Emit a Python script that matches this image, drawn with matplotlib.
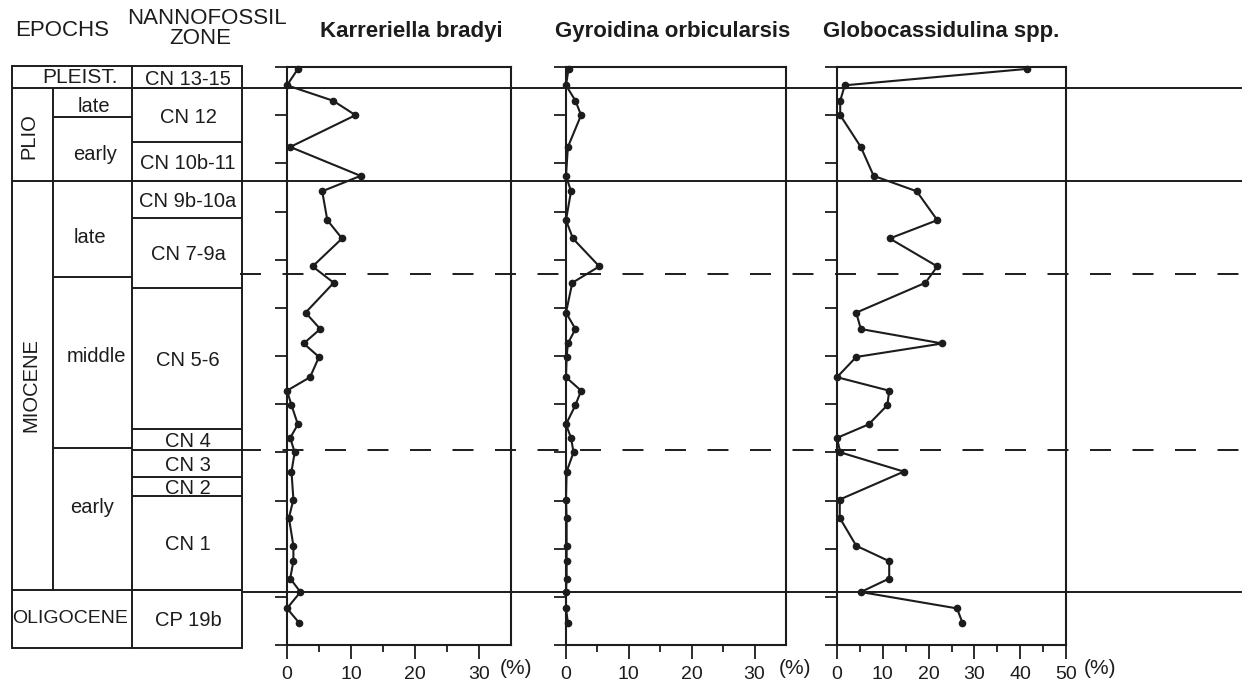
import matplotlib
matplotlib.use("Agg")
import matplotlib.pyplot as plt
from matplotlib.ticker import MultipleLocator, FixedLocator

plt.rcParams['font.family'] = ['Liberation Sans', 'DejaVu Sans']
plt.rcParams['lines.scale_dashes'] = False

# ---------------- data ----------------
depth = [2, 19, 35, 50, 83, 113, 129, 159, 178, 207, 224, 255, 272, 287, 301,
         322, 336, 351, 371, 385, 400, 420, 449, 468, 497, 513, 531, 545, 562, 577]
karreriella = [1.7, 0.0, 7.2, 10.7, 0.5, 11.5, 5.5, 6.3, 8.6, 4.0, 7.3, 2.9, 5.2, 2.6, 5.0,
               3.6, 0.0, 0.7, 1.7, 0.5, 1.2, 0.7, 1.0, 0.3, 1.0, 1.0, 0.5, 2.1, 0.0, 1.9]
gyroidina = [0.4, 0.0, 1.5, 2.4, 0.3, 0.0, 0.8, 0.0, 1.1, 5.3, 1.0, 0.0, 1.5, 0.3, 0.1,
             0.0, 2.4, 1.5, 0.0, 0.8, 1.2, 0.1, 0.0, 0.1, 0.1, 0.1, 0.1, 0.0, 0.0, 0.3]
globocassidulina = [41.4, 1.7, 0.7, 0.7, 5.2, 8.0, 17.4, 21.9, 11.5, 21.9, 19.3, 4.2, 5.2, 23.0, 4.2,
                    0.0, 11.4, 11.0, 6.9, 0.0, 0.7, 14.6, 0.6, 0.6, 4.2, 11.4, 11.4, 5.2, 26.2, 27.4]

series_names = ["Karreriella bradyi", "Gyroidina orbicularsis", "Globocassidulina spp."]
series_max = [35, 35, 50]

# stratigraphy (depth units)
epoch_names = ["PLEIST.", "PLIO", "MIOCENE", "OLIGOCENE"]
epoch_tops = [-1, 22, 118, 543]
epoch_bases = [22, 118, 543, 603]
subepoch_names = ["late", "early", "late", "middle", "early"]
subepoch_tops = [22, 52, 118, 218, 396]
subepoch_bases = [52, 118, 218, 396, 543]
zone_names = ["CN 13-15", "CN 12", "CN 10b-11", "CN 9b-10a", "CN 7-9a", "CN 5-6",
              "CN 4", "CN 3", "CN 2", "CN 1", "CP 19b"]
zone_tops = [-1, 22, 78, 118, 157, 229, 376, 398, 426, 445, 543]
zone_bases = [22, 78, 118, 157, 229, 376, 398, 426, 445, 543, 603]
solid_bounds = [22, 118, 545]
dashed_bounds = [215, 398]

# ---------------- layout ----------------
W, H = 1242, 685
fig = plt.figure(figsize=(W / 100, H / 100), dpi=100)
INK = '#1c1c1c'
top_px, bot_px = 67, 645
ay0 = 1 - bot_px / H
ah = (bot_px - top_px) / H

panel_px = [(287, 511), (566, 786), (837, 1066)]
datasets = [karreriella, gyroidina, globocassidulina]

for (x0, x1), vals, xmax in zip(panel_px, datasets, series_max):
    ax = fig.add_axes([x0 / W, ay0, (x1 - x0) / W, ah])
    ax.set_facecolor('none')
    ax.plot(vals, depth, '-o', color=INK, lw=1.5, ms=4.5, clip_on=False, zorder=3)
    ax.set_xlim(0, xmax)
    ax.set_ylim(600, 0)
    for s in ax.spines.values():
        s.set_linewidth(1.5)
        s.set_color(INK)
    ax.yaxis.set_major_locator(MultipleLocator(50))
    ax.set_yticklabels([])
    ax.xaxis.set_major_locator(FixedLocator(list(range(0, (xmax // 10) * 10 + 1, 10))))
    ax.xaxis.set_minor_locator(FixedLocator(list(range(5, xmax, 10))))
    ax.tick_params(axis='both', which='both', direction='out', width=1.3,
                   color=INK, labelsize=14, labelcolor=INK)
    ax.tick_params(axis='y', which='major', length=9)
    ax.tick_params(axis='x', which='major', length=10, pad=5)
    ax.tick_params(axis='x', which='minor', length=5)

# overlay axes for stratigraphic column and boundary lines
ov = fig.add_axes([0, ay0, 1, ah], zorder=10)
ov.set_facecolor('none')
ov.set_xlim(0, W)
ov.set_ylim(600, 0)
ov.axis('off')

LW = 1.4
def hline(d, xa, xb, **kw):
    ov.plot([xa, xb], [d, d], color=INK, lw=kw.pop('lw', LW), clip_on=False,
            solid_capstyle='butt', **kw)

def vline(x, da, db):
    ov.plot([x, x], [da, db], color=INK, lw=LW, clip_on=False)

cx0, cx_ep, cx_sub, cx1 = 12, 53, 132, 242
# outer box
vline(cx0, epoch_tops[0], epoch_bases[-1])
vline(cx1, epoch_tops[0], epoch_bases[-1])
vline(cx_sub, epoch_tops[0], epoch_bases[-1])
vline(cx_ep, epoch_tops[1], epoch_bases[2])
for d in epoch_tops + [epoch_bases[-1]]:
    hline(d, cx0, cx1)
for d in [subepoch_tops[1], subepoch_tops[3], subepoch_tops[4]]:
    hline(d, cx_ep, cx_sub)
for d in zone_tops[1:]:
    hline(d, cx_sub, cx1)

# long boundary lines
for d in solid_bounds:
    hline(d, cx1, W)
for d in dashed_bounds:
    hline(d, 240, W, dashes=(15.1, 15.5))

# labels
fs = 14.5
ov.text(80, (epoch_tops[0] + epoch_bases[0]) / 2, epoch_names[0], ha='center', va='center', fontsize=15, color=INK)
ov.text(29, (epoch_tops[1] + epoch_bases[1]) / 2 + 2, epoch_names[1], ha='center', va='center', fontsize=fs, rotation=90, color=INK)
ov.text(31, 330, epoch_names[2], ha='center', va='center', fontsize=fs, rotation=90, color=INK)
ov.text(70, (epoch_tops[3] + epoch_bases[3]) / 2, epoch_names[3], ha='center', va='center', fontsize=14, color=INK)

sub_x = [94, 95, 90, 96, 92]
sub_y = [41, 91, 177, 301, 457]
for name, x, y in zip(subepoch_names, sub_x, sub_y):
    ov.text(x, y, name, ha='center', va='center', fontsize=fs, color=INK)

for name, t, b in zip(zone_names, zone_tops, zone_bases):
    ov.text(188, (t + b) / 2 + 2, name, ha='center', va='center', fontsize=fs, color=INK)

# headers
fig.text(62 / W, 1 - 30 / H, "EPOCHS", ha='center', va='center', fontsize=16, color=INK)
fig.text(207 / W, 1 - 19 / H, "NANNOFOSSIL", ha='center', va='center', fontsize=16, color=INK)
fig.text(200 / W, 1 - 38 / H, "ZONE", ha='center', va='center', fontsize=16, color=INK)
title_x = [411, 673, 941]
for name, x in zip(series_names, title_x):
    fig.text(x / W, 1 - 31 / H, name, ha='center', va='center', fontsize=16,
             fontweight='bold', color=INK)
for x in [516, 795, 1100]:
    fig.text(x / W, 1 - 668 / H, "(%)", ha='center', va='center', fontsize=15, color=INK)

fig.savefig("out.png", dpi=100, facecolor='white')
